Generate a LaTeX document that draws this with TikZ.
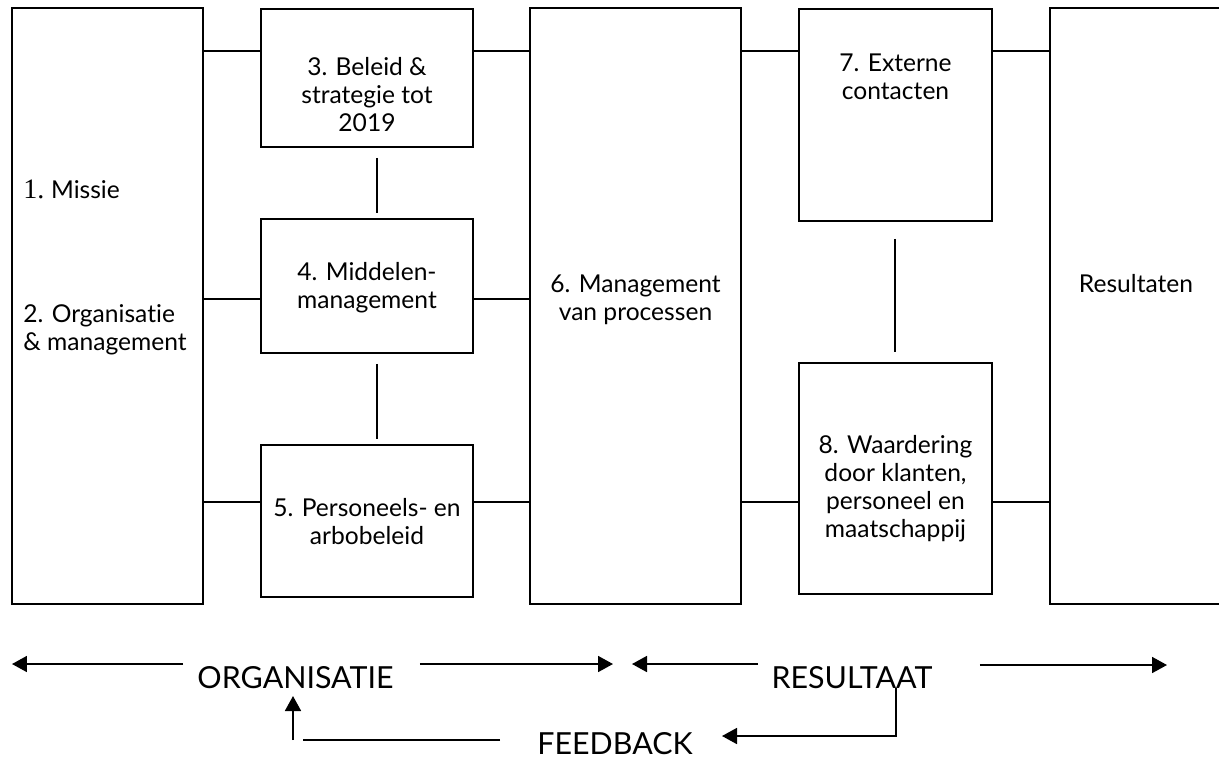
\documentclass[tikz,border=0pt]{standalone}
\usepackage{fontspec}
\setmainfont{Lato}[Ligatures=NoCommon]
\newfontfamily\numfont{Liberation Serif}
\usetikzlibrary{arrows.meta,calc}

\tikzset{
  box/.style={draw, line width=1pt, inner sep=0pt},
  link/.style={line width=1pt},
  arr/.style={line width=1pt, -{Triangle[length=0.3cm, width=0.32cm]}},
  boxtext/.style={font=\fontsize{14}{15.9}\selectfont, align=center, inner sep=0pt, anchor=base},
  bigtext/.style={font=\fontsize{17.3}{20}\selectfont, inner sep=0pt, anchor=base}
}

\begin{document}
\begin{tikzpicture}[x=0.02cm, y=-0.02cm]
\useasboundingbox (0,0) rectangle (1219,758);
% kolommen
\node[box, minimum width=3.82cm, minimum height=11.92cm] (missie) at (107.5,306) {};
\node[box, minimum width=4.24cm, minimum height=2.76cm] (beleid) at (367,78) {};
\node[box, minimum width=4.24cm, minimum height=2.68cm] (middel) at (367,286) {};
\node[box, minimum width=4.24cm, minimum height=3.04cm] (pers) at (367,521) {};
\node[box, minimum width=4.22cm, minimum height=11.92cm] (proces) at (635.5,306) {};
\node[box, minimum width=3.86cm, minimum height=4.24cm] (extern) at (895.5,115) {};
\node[box, minimum width=3.86cm, minimum height=4.62cm] (waard) at (895.5,478.5) {};
\node[box, minimum width=3.44cm, minimum height=11.92cm] (result) at (1136,306) {};

% tekst (anker = basislijn van de laatste regel)
\node[boxtext, anchor=base west, align=left] (missieT) at (23,198) {{\numfont\fontsize{16}{16}\selectfont 1.}\hspace{-1pt} Missie};
\node[boxtext, anchor=base west, align=left] (orgT) at (23,350) {2. Organisatie\\\& management};
\node[boxtext] (beleidT) at (367,131) {3. Beleid \&\\strategie tot\\2019};
\node[boxtext] (middelT) at (367,308) {4. Middelen-\\management};
\node[boxtext] (persT) at (367,544) {5. Personeels- en\\arbobeleid};
\node[boxtext] (procesT) at (635.5,320) {6. Management\\van processen};
\node[boxtext] (externT) at (895.5,99) {7. Externe\\contacten};
\node[boxtext] (waardT) at (895.5,537) {8. Waardering\\door klanten,\\personeel en\\maatschappij};
\node[boxtext] (resultT) at (1136,292) {Resultaten};

% verbindingen
\coordinate (r1) at (0,51);
\coordinate (r2) at (0,299);
\coordinate (r3) at (0,502);
\coordinate (c1) at (377,0);
\coordinate (c2) at (895,0);
\draw[link] (missie.east |- r1) -- (beleid.west |- r1);
\draw[link] (beleid.east |- r1) -- (proces.west |- r1);
\draw[link] (proces.east |- r1) -- (extern.west |- r1);
\draw[link] (extern.east |- r1) -- (result.west |- r1);
\draw[link] (missie.east |- r2) -- (middel.west |- r2);
\draw[link] (middel.east |- r2) -- (proces.west |- r2);
\draw[link] (missie.east |- r3) -- (pers.west |- r3);
\draw[link] (pers.east |- r3) -- (proces.west |- r3);
\draw[link] (proces.east |- r3) -- (waard.west |- r3);
\draw[link] (waard.east |- r3) -- (result.west |- r3);
\draw[link, shorten <=0.2cm, shorten >=0.1cm] (beleid.south -| c1) -- (middel.north -| c1);
\draw[link, shorten <=0.2cm, shorten >=0.1cm] (middel.south -| c1) -- (pers.north -| c1);
\draw[link, shorten <=0.34cm, shorten >=0.2cm] (extern.south -| c2) -- (waard.north -| c2);

% onderbalk
\node[bigtext] (orgB) at (295.5,688) {ORGANISATIE};
\node[bigtext] (resB) at (852,688) {RESULTAAT};
\node[bigtext] (fbB) at (615,754) {FEEDBACK};
\coordinate (oL) at (12,664);
\coordinate (oR) at (613,664);
\coordinate (rL) at (632,664);
\coordinate (rR) at (1167,665);
\draw[arr] ($(orgB.west |- oL)+(-14,0)$) -- (oL);
\draw[arr] ($(orgB.east |- oR)+(26,0)$) -- (oR);
\draw[arr] ($(resB.west |- rL)+(-13,0)$) -- (rL);
\draw[arr] ($(resB.east |- rR)+(47,0)$) -- (rR);
\coordinate (fbR) at (896,736);
\coordinate (fbRtip) at (722,736);
\draw[arr] (resB.base -| fbR) -- (fbR) -- (fbRtip);
\coordinate (fbL) at (303,740);
\coordinate (fbUp) at (293,740);
\draw[link] ($(fbB.west |- fbL)+(-37,0)$) -- (fbL);
\draw[arr] (fbUp) -- ($(orgB.base -| fbUp)+(0,8)$);
%%\draw[red] (0,0) rectangle (1219,758);
\end{tikzpicture}
\end{document}
